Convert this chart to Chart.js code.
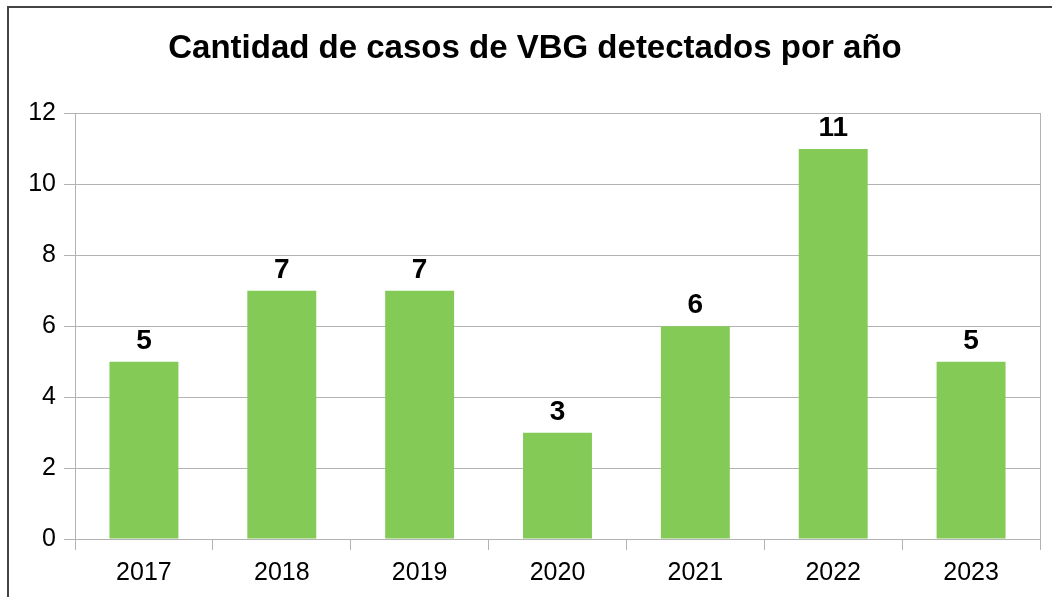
<!DOCTYPE html>
<html>
<head>
<meta charset="utf-8">
<script src="https://cdn.jsdelivr.net/npm/chart.js@4"></script>
<style>
  html, body { margin: 0; padding: 0; background: #fff; }
  #wrap { position: relative; width: 1052px; height: 597px; }
</style>
</head>
<body>
<div id="wrap"><canvas id="chart"></canvas></div>
<script>
// data
var years = ['2017', '2018', '2019', '2020', '2021', '2022', '2023'];
var casos = [5, 7, 7, 3, 6, 11, 5];
var titulo = 'Cantidad de casos de VBG detectados por año';

var gridColor = '#b3b3b3';
var barColor = '#83ca56';
var fontName = '"Liberation Sans", Arial, sans-serif';

Chart.defaults.font.family = fontName;
Chart.defaults.color = '#000';

// marco exterior
var frame = {
  id: 'frame',
  beforeDraw: function (chart) {
    var ctx = chart.ctx;
    ctx.save();
    ctx.strokeStyle = '#444';
    ctx.lineWidth = 2;
    ctx.strokeRect(8, 7, 1100, 700);
    ctx.restore();
  }
};

// etiquetas encima de las barras
var valueLabels = {
  id: 'valueLabels',
  afterDatasetsDraw: function (chart) {
    var ctx = chart.ctx;
    var meta = chart.getDatasetMeta(0);
    ctx.save();
    ctx.font = 'bold 28px ' + fontName;
    ctx.fillStyle = '#000';
    ctx.textAlign = 'center';
    ctx.textBaseline = 'alphabetic';
    meta.data.forEach(function (bar, i) {
      ctx.fillText(casos[i], bar.x, bar.y - 13);
    });
    ctx.restore();
  }
};

var canvas = document.getElementById('chart');
new Chart(canvas, {
  type: 'bar',
  data: {
    labels: years,
    datasets: [{
      data: casos,
      backgroundColor: barColor,
      borderWidth: 0,
      barPercentage: 0.5,
      categoryPercentage: 1
    }]
  },
  options: {
    responsive: true,
    maintainAspectRatio: false,
    animation: false,
    layout: { padding: { left: 30, right: 12, top: 0, bottom: 0 } },
    plugins: {
      legend: { display: false },
      tooltip: { enabled: false },
      title: {
        display: true,
        text: titulo,
        color: '#000',
        font: { size: 33, weight: 'bold' },
        padding: { top: 29, bottom: 45 }
      }
    },
    scales: {
      x: {
        offset: true,
        grid: {
          display: true,
          drawOnChartArea: false,
          offset: true,
          color: gridColor,
          tickLength: 11
        },
        border: { display: true, color: gridColor },
        ticks: { font: { size: 25 }, padding: 8, color: '#000' },
        afterFit: function (s) { s.height = 58; }
      },
      y: {
        min: 0,
        max: 12,
        ticks: { stepSize: 2, font: { size: 25 }, padding: 8, color: '#000' },
        grid: { color: gridColor, tickLength: 11 },
        border: { display: true, color: gridColor },
        afterFit: function (s) { s.width = 45; }
      },
      y2: {
        position: 'right',
        min: 0,
        max: 12,
        grid: { display: false },
        ticks: { display: false },
        border: { display: true, color: gridColor, width: 1 },
        afterFit: function (s) { s.width = 0; }
      }
    }
  },
  plugins: [frame, valueLabels]
});
</script>
</body>
</html>
